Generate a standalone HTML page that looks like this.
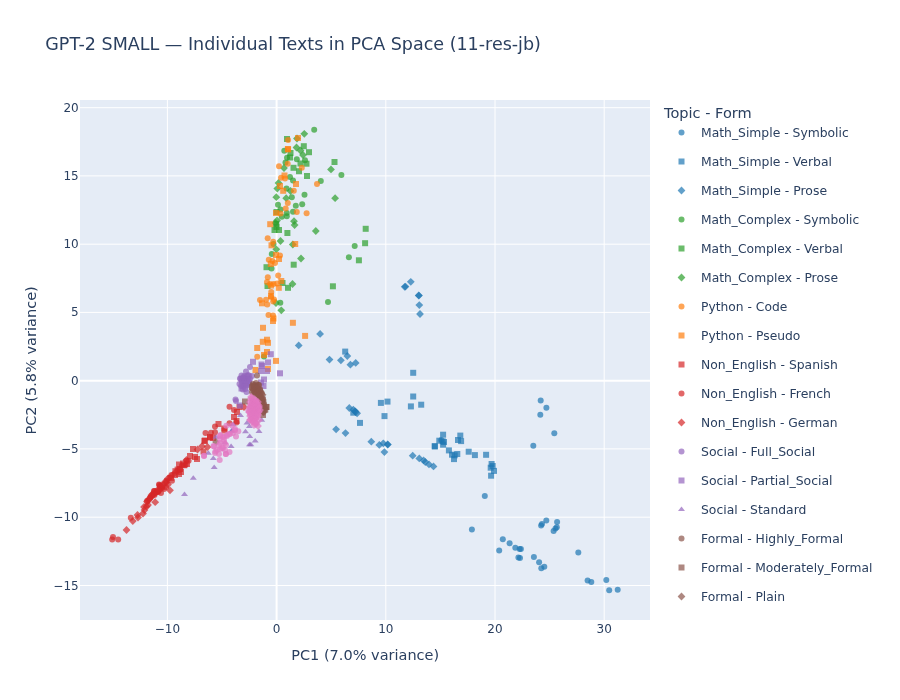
<!DOCTYPE html>
<html><head><meta charset="utf-8"><title>GPT-2 SMALL PCA</title>
<style>
html,body{margin:0;padding:0;background:#fff;}
svg{display:block;font-family:"DejaVu Sans","Liberation Sans",sans-serif;fill:#2a3f5f;}
</style></head><body>
<svg width="900" height="700" viewBox="0 0 900 700">
<rect width="900" height="700" fill="#fff"/>
<rect x="80" y="100" width="570" height="520" fill="#e5ecf6"/>
<g stroke="#fff" stroke-width="1">
<line x1="167.4" x2="167.4" y1="100" y2="620"/>
<line x1="385.8" x2="385.8" y1="100" y2="620"/>
<line x1="495" x2="495" y1="100" y2="620"/>
<line x1="604.2" x2="604.2" y1="100" y2="620"/>
<line y1="585.5" y2="585.5" x1="80" x2="650"/>
<line y1="517.2" y2="517.2" x1="80" x2="650"/>
<line y1="448.9" y2="448.9" x1="80" x2="650"/>
<line y1="312.4" y2="312.4" x1="80" x2="650"/>
<line y1="244.2" y2="244.2" x1="80" x2="650"/>
<line y1="175.9" y2="175.9" x1="80" x2="650"/>
<line y1="107.7" y2="107.7" x1="80" x2="650"/>
</g><g stroke="#fff" stroke-width="2">
<line x1="276.6" x2="276.6" y1="100" y2="620"/>
<line y1="380.7" y2="380.7" x1="80" x2="650"/>
</g>
<g fill-opacity="0.7">
<g fill="#1f77b4">
<circle cx="484.8" cy="496.1" r="3"/>
<circle cx="471.9" cy="529.6" r="3"/>
<circle cx="502.8" cy="539.3" r="3"/>
<circle cx="509.6" cy="543.3" r="3"/>
<circle cx="515.3" cy="547.7" r="3"/>
<circle cx="519.6" cy="548.9" r="3"/>
<circle cx="520.9" cy="549.1" r="3"/>
<circle cx="499.2" cy="550.4" r="3"/>
<circle cx="518.4" cy="557.6" r="3"/>
<circle cx="520" cy="558" r="3"/>
<circle cx="533.9" cy="557.1" r="3"/>
<circle cx="539.1" cy="562.2" r="3"/>
<circle cx="546.3" cy="520.4" r="3"/>
<circle cx="542" cy="524" r="3"/>
<circle cx="541.1" cy="525.6" r="3"/>
<circle cx="557.1" cy="522" r="3"/>
<circle cx="556.8" cy="527.2" r="3"/>
<circle cx="555.5" cy="528.5" r="3"/>
<circle cx="553.6" cy="530.9" r="3"/>
<circle cx="540.7" cy="400.4" r="3"/>
<circle cx="546.4" cy="407.7" r="3"/>
<circle cx="540.3" cy="414.8" r="3"/>
<circle cx="554.3" cy="433.2" r="3"/>
<circle cx="533.3" cy="445.7" r="3"/>
<circle cx="578.3" cy="552.5" r="3"/>
<circle cx="544.3" cy="566.7" r="3"/>
<circle cx="541.3" cy="568.3" r="3"/>
<circle cx="587.6" cy="580.4" r="3"/>
<circle cx="591.3" cy="582" r="3"/>
<circle cx="606.3" cy="579.9" r="3"/>
<circle cx="609.2" cy="590.3" r="3"/>
<circle cx="617.7" cy="589.7" r="3"/>
<circle cx="441.3" cy="440" r="3"/>
<rect x="410.2" y="369.8" width="6" height="6"/>
<rect x="342.2" y="348.6" width="6" height="6"/>
<rect x="410.2" y="393.5" width="6" height="6"/>
<rect x="377.9" y="399.9" width="6" height="6"/>
<rect x="384.5" y="398.6" width="6" height="6"/>
<rect x="407.9" y="403.4" width="6" height="6"/>
<rect x="418.2" y="401.7" width="6" height="6"/>
<rect x="350.3" y="409.7" width="6" height="6"/>
<rect x="381.5" y="413.1" width="6" height="6"/>
<rect x="357" y="419.9" width="6" height="6"/>
<rect x="431.9" y="443.4" width="6" height="6"/>
<rect x="431.7" y="443.2" width="6" height="6"/>
<rect x="436.3" y="437.7" width="6" height="6"/>
<rect x="440.1" y="431.7" width="6" height="6"/>
<rect x="439.7" y="438.3" width="6" height="6"/>
<rect x="441" y="439" width="6" height="6"/>
<rect x="440.1" y="441.7" width="6" height="6"/>
<rect x="457.3" y="432.6" width="6" height="6"/>
<rect x="455" y="437" width="6" height="6"/>
<rect x="458.1" y="438.1" width="6" height="6"/>
<rect x="445.9" y="447.4" width="6" height="6"/>
<rect x="449" y="451.7" width="6" height="6"/>
<rect x="451.7" y="452.3" width="6" height="6"/>
<rect x="454.3" y="451" width="6" height="6"/>
<rect x="451" y="456.1" width="6" height="6"/>
<rect x="465.7" y="448.7" width="6" height="6"/>
<rect x="471.9" y="452.1" width="6" height="6"/>
<rect x="483.1" y="451.8" width="6" height="6"/>
<rect x="488.6" y="461" width="6" height="6"/>
<rect x="489.7" y="463" width="6" height="6"/>
<rect x="487.7" y="464.7" width="6" height="6"/>
<rect x="491" y="467.9" width="6" height="6"/>
<rect x="488.1" y="472.7" width="6" height="6"/>
<path d="M410.8 277.9L414.7 281.8L410.8 285.7L406.9 281.8Z"/>
<path d="M404.7 282.9L408.6 286.8L404.7 290.7L400.8 286.8Z"/>
<path d="M405.5 282.7L409.4 286.6L405.5 290.5L401.6 286.6Z"/>
<path d="M418.7 291.5L422.6 295.4L418.7 299.3L414.8 295.4Z"/>
<path d="M418.9 291.7L422.8 295.6L418.9 299.5L415 295.6Z"/>
<path d="M419.3 301.2L423.2 305.1L419.3 309L415.4 305.1Z"/>
<path d="M420 310.1L423.9 314L420 317.9L416.1 314Z"/>
<path d="M320.1 330L324 333.9L320.1 337.8L316.2 333.9Z"/>
<path d="M298.7 341.5L302.6 345.4L298.7 349.3L294.8 345.4Z"/>
<path d="M347.3 352.1L351.2 356L347.3 359.9L343.4 356Z"/>
<path d="M329.5 355.7L333.4 359.6L329.5 363.5L325.6 359.6Z"/>
<path d="M340.9 356.4L344.8 360.3L340.9 364.2L337 360.3Z"/>
<path d="M350.4 360.8L354.3 364.7L350.4 368.6L346.5 364.7Z"/>
<path d="M355.7 359L359.6 362.9L355.7 366.8L351.8 362.9Z"/>
<path d="M349.3 404.1L353.2 408L349.3 411.9L345.4 408Z"/>
<path d="M353.3 405.8L357.2 409.7L353.3 413.6L349.4 409.7Z"/>
<path d="M354.9 407.2L358.8 411.1L354.9 415L351 411.1Z"/>
<path d="M355.7 408.1L359.6 412L355.7 415.9L351.8 412Z"/>
<path d="M357.1 409.4L361 413.3L357.1 417.2L353.2 413.3Z"/>
<path d="M336.1 425.4L340 429.3L336.1 433.2L332.2 429.3Z"/>
<path d="M345.5 429.2L349.4 433.1L345.5 437L341.6 433.1Z"/>
<path d="M371.3 437.8L375.2 441.7L371.3 445.6L367.4 441.7Z"/>
<path d="M379.3 441L383.2 444.9L379.3 448.8L375.4 444.9Z"/>
<path d="M383.3 439.4L387.2 443.3L383.3 447.2L379.4 443.3Z"/>
<path d="M387.6 440.5L391.5 444.4L387.6 448.3L383.7 444.4Z"/>
<path d="M387.8 440.7L391.7 444.6L387.8 448.5L383.9 444.6Z"/>
<path d="M384.4 448.2L388.3 452.1L384.4 456L380.5 452.1Z"/>
<path d="M412.7 451.8L416.6 455.7L412.7 459.6L408.8 455.7Z"/>
<path d="M419.3 454.5L423.2 458.4L419.3 462.3L415.4 458.4Z"/>
<path d="M423.6 456.5L427.5 460.4L423.6 464.3L419.7 460.4Z"/>
<path d="M425.3 458.1L429.2 462L425.3 465.9L421.4 462Z"/>
<path d="M429 460.5L432.9 464.4L429 468.3L425.1 464.4Z"/>
<path d="M433.5 462.5L437.4 466.4L433.5 470.3L429.6 466.4Z"/>
</g>
<g fill="#2ca02c">
<circle cx="314.2" cy="129.7" r="3"/>
<circle cx="284.3" cy="150.8" r="3"/>
<circle cx="287" cy="157.8" r="3"/>
<circle cx="296.8" cy="159.2" r="3"/>
<circle cx="305" cy="160.2" r="3"/>
<circle cx="285.5" cy="162.5" r="3"/>
<circle cx="341.4" cy="175.1" r="3"/>
<circle cx="320.8" cy="181" r="3"/>
<circle cx="290" cy="177" r="3"/>
<circle cx="293" cy="180.5" r="3"/>
<circle cx="286.5" cy="188.5" r="3"/>
<circle cx="304.5" cy="194.7" r="3"/>
<circle cx="291.8" cy="197.2" r="3"/>
<circle cx="278" cy="204.8" r="3"/>
<circle cx="295.8" cy="205.8" r="3"/>
<circle cx="302.2" cy="204.3" r="3"/>
<circle cx="280.5" cy="209.5" r="3"/>
<circle cx="293" cy="211.8" r="3"/>
<circle cx="286.8" cy="213" r="3"/>
<circle cx="286.8" cy="216.2" r="3"/>
<circle cx="281.8" cy="216.8" r="3"/>
<circle cx="271.8" cy="254" r="3"/>
<circle cx="271.5" cy="268.5" r="3"/>
<circle cx="280.3" cy="302.8" r="3"/>
<circle cx="328" cy="302" r="3"/>
<circle cx="354.7" cy="246" r="3"/>
<circle cx="348.9" cy="257.2" r="3"/>
<circle cx="264" cy="356.5" r="3"/>
<circle cx="273.5" cy="244" r="3"/>
<rect x="284" y="136" width="6" height="6"/>
<rect x="300.8" y="143.2" width="6" height="6"/>
<rect x="306" y="149.2" width="6" height="6"/>
<rect x="287.5" y="150" width="6" height="6"/>
<rect x="287" y="154.5" width="6" height="6"/>
<rect x="303.5" y="160.7" width="6" height="6"/>
<rect x="297.5" y="160.5" width="6" height="6"/>
<rect x="290.5" y="164.8" width="6" height="6"/>
<rect x="296" y="168.2" width="6" height="6"/>
<rect x="304" y="173" width="6" height="6"/>
<rect x="331.5" y="159" width="6" height="6"/>
<rect x="273.5" y="209" width="6" height="6"/>
<rect x="273.2" y="221" width="6" height="6"/>
<rect x="271.5" y="227" width="6" height="6"/>
<rect x="276" y="227" width="6" height="6"/>
<rect x="273.5" y="224" width="6" height="6"/>
<rect x="284.4" y="230" width="6" height="6"/>
<rect x="290.7" y="261.7" width="6" height="6"/>
<rect x="263.5" y="264.2" width="6" height="6"/>
<rect x="279.5" y="280" width="6" height="6"/>
<rect x="264.5" y="283" width="6" height="6"/>
<rect x="285" y="284.8" width="6" height="6"/>
<rect x="329.9" y="283.3" width="6" height="6"/>
<rect x="362.7" y="225.8" width="6" height="6"/>
<rect x="362.1" y="240.2" width="6" height="6"/>
<rect x="355.9" y="257.3" width="6" height="6"/>
<path d="M304.3 129.9L308.2 133.8L304.3 137.7L300.4 133.8Z"/>
<path d="M297 134.6L300.9 138.5L297 142.4L293.1 138.5Z"/>
<path d="M296.5 143.6L300.4 147.5L296.5 151.4L292.6 147.5Z"/>
<path d="M300.5 146.6L304.4 150.5L300.5 154.4L296.6 150.5Z"/>
<path d="M303 151.1L306.9 155L303 158.9L299.1 155Z"/>
<path d="M284 164.1L287.9 168L284 171.9L280.1 168Z"/>
<path d="M331 165.5L334.9 169.4L331 173.3L327.1 169.4Z"/>
<path d="M278.5 179.1L282.4 183L278.5 186.9L274.6 183Z"/>
<path d="M277.3 184.7L281.2 188.6L277.3 192.5L273.4 188.6Z"/>
<path d="M290.5 187.1L294.4 191L290.5 194.9L286.6 191Z"/>
<path d="M335.1 194.3L339 198.2L335.1 202.1L331.2 198.2Z"/>
<path d="M276.3 193.3L280.2 197.2L276.3 201.1L272.4 197.2Z"/>
<path d="M286.2 194.3L290.1 198.2L286.2 202.1L282.3 198.2Z"/>
<path d="M294 217.3L297.9 221.2L294 225.1L290.1 221.2Z"/>
<path d="M294.6 221.1L298.5 225L294.6 228.9L290.7 225Z"/>
<path d="M277 216.6L280.9 220.5L277 224.4L273.1 220.5Z"/>
<path d="M275.5 219.1L279.4 223L275.5 226.9L271.6 223Z"/>
<path d="M315.8 227.1L319.7 231L315.8 234.9L311.9 231Z"/>
<path d="M280.5 237.1L284.4 241L280.5 244.9L276.6 241Z"/>
<path d="M292.8 240.6L296.7 244.5L292.8 248.4L288.9 244.5Z"/>
<path d="M276.3 245.4L280.2 249.3L276.3 253.2L272.4 249.3Z"/>
<path d="M301 254.6L304.9 258.5L301 262.4L297.1 258.5Z"/>
<path d="M292.5 280.1L296.4 284L292.5 287.9L288.6 284Z"/>
<path d="M276 299.1L279.9 303L276 306.9L272.1 303Z"/>
<path d="M281.3 306.4L285.2 310.3L281.3 314.2L277.4 310.3Z"/>
</g>
<g fill="#ff7f0e">
<circle cx="288.1" cy="140" r="3"/>
<circle cx="287.7" cy="163.8" r="3"/>
<circle cx="279" cy="166.3" r="3"/>
<circle cx="301.8" cy="167.8" r="3"/>
<circle cx="317" cy="184" r="3"/>
<circle cx="281" cy="177.8" r="3"/>
<circle cx="285" cy="178.5" r="3"/>
<circle cx="293.8" cy="190.8" r="3"/>
<circle cx="287.8" cy="203" r="3"/>
<circle cx="285.7" cy="208.5" r="3"/>
<circle cx="280.5" cy="213.5" r="3"/>
<circle cx="296.8" cy="212" r="3"/>
<circle cx="306.6" cy="213.2" r="3"/>
<circle cx="267.7" cy="238.3" r="3"/>
<circle cx="273.2" cy="241.8" r="3"/>
<circle cx="280" cy="255.5" r="3"/>
<circle cx="268.8" cy="259.8" r="3"/>
<circle cx="272.5" cy="261" r="3"/>
<circle cx="275" cy="263" r="3"/>
<circle cx="278.2" cy="275.5" r="3"/>
<circle cx="267.8" cy="277.3" r="3"/>
<circle cx="267" cy="282" r="3"/>
<circle cx="270" cy="284" r="3"/>
<circle cx="273.5" cy="284" r="3"/>
<circle cx="277" cy="283.5" r="3"/>
<circle cx="271.2" cy="292" r="3"/>
<circle cx="274" cy="299.5" r="3"/>
<circle cx="260" cy="300" r="3"/>
<circle cx="266" cy="299.8" r="3"/>
<circle cx="267.3" cy="304.5" r="3"/>
<circle cx="273.2" cy="301.5" r="3"/>
<circle cx="271" cy="297" r="3"/>
<circle cx="268.5" cy="315" r="3"/>
<circle cx="273" cy="315.5" r="3"/>
<circle cx="257.2" cy="356.7" r="3"/>
<rect x="295" y="135" width="6" height="6"/>
<rect x="284.9" y="146" width="6" height="6"/>
<rect x="285.1" y="146.4" width="6" height="6"/>
<rect x="281.5" y="172.5" width="6" height="6"/>
<rect x="293" y="181" width="6" height="6"/>
<rect x="277" y="183" width="6" height="6"/>
<rect x="280.2" y="187.8" width="6" height="6"/>
<rect x="273" y="210" width="6" height="6"/>
<rect x="267.2" y="221.2" width="6" height="6"/>
<rect x="268.5" y="242.3" width="6" height="6"/>
<rect x="292.2" y="241" width="6" height="6"/>
<rect x="273" y="252" width="6" height="6"/>
<rect x="276" y="256" width="6" height="6"/>
<rect x="267.8" y="261" width="6" height="6"/>
<rect x="278.3" y="278" width="6" height="6"/>
<rect x="275.8" y="284.8" width="6" height="6"/>
<rect x="268" y="282.5" width="6" height="6"/>
<rect x="268" y="293" width="6" height="6"/>
<rect x="259" y="300.3" width="6" height="6"/>
<rect x="270.5" y="315.5" width="6" height="6"/>
<rect x="270" y="318" width="6" height="6"/>
<rect x="289.9" y="319.8" width="6" height="6"/>
<rect x="260" y="324.8" width="6" height="6"/>
<rect x="302.1" y="332.9" width="6" height="6"/>
<rect x="264" y="336.7" width="6" height="6"/>
<rect x="259.8" y="338.8" width="6" height="6"/>
<rect x="265" y="339.8" width="6" height="6"/>
<rect x="254.2" y="345" width="6" height="6"/>
<rect x="264" y="349" width="6" height="6"/>
<rect x="261" y="352" width="6" height="6"/>
<rect x="273" y="357.9" width="6" height="6"/>
<rect x="265" y="366" width="6" height="6"/>
<rect x="252.5" y="367" width="6" height="6"/>
</g>
<g fill="#d62728">
<rect x="221.5" y="427.5" width="6" height="6"/>
<rect x="207" y="434" width="6" height="6"/>
<rect x="201.8" y="437.5" width="6" height="6"/>
<rect x="190" y="446" width="6" height="6"/>
<rect x="200.5" y="448.5" width="6" height="6"/>
<rect x="187" y="453" width="6" height="6"/>
<rect x="192" y="454" width="6" height="6"/>
<rect x="194" y="456" width="6" height="6"/>
<rect x="176" y="461.5" width="6" height="6"/>
<rect x="180" y="460.5" width="6" height="6"/>
<rect x="184" y="461" width="6" height="6"/>
<rect x="177" y="466" width="6" height="6"/>
<rect x="178" y="469" width="6" height="6"/>
<rect x="176" y="471" width="6" height="6"/>
<rect x="172" y="472" width="6" height="6"/>
<rect x="236.5" y="404" width="6" height="6"/>
<rect x="234" y="409" width="6" height="6"/>
<rect x="231" y="414" width="6" height="6"/>
<rect x="215.5" y="421" width="6" height="6"/>
<rect x="221.3" y="425.5" width="6" height="6"/>
<rect x="233.5" y="418" width="6" height="6"/>
<rect x="207" y="434.5" width="6" height="6"/>
<rect x="210" y="435" width="6" height="6"/>
<rect x="201.5" y="438" width="6" height="6"/>
<circle cx="113" cy="537" r="3"/>
<circle cx="112.2" cy="539.5" r="3"/>
<circle cx="118.2" cy="539.5" r="3"/>
<circle cx="130.8" cy="517.8" r="3"/>
<circle cx="147" cy="501" r="3"/>
<circle cx="150.5" cy="497.5" r="3"/>
<circle cx="154" cy="494" r="3"/>
<circle cx="154.5" cy="491" r="3"/>
<circle cx="158" cy="491.5" r="3"/>
<circle cx="159.5" cy="490" r="3"/>
<circle cx="161" cy="493" r="3"/>
<circle cx="160" cy="486" r="3"/>
<circle cx="159" cy="484.5" r="3"/>
<circle cx="162" cy="487.5" r="3"/>
<circle cx="164" cy="489" r="3"/>
<circle cx="166" cy="487" r="3"/>
<circle cx="166.5" cy="481" r="3"/>
<circle cx="172" cy="480.7" r="3"/>
<circle cx="205.5" cy="433" r="3"/>
<circle cx="211" cy="432.7" r="3"/>
<circle cx="215" cy="432.3" r="3"/>
<circle cx="185.5" cy="465" r="3"/>
<circle cx="171.5" cy="475" r="3"/>
<circle cx="159.5" cy="485" r="3"/>
<circle cx="162" cy="488" r="3"/>
<circle cx="154" cy="491" r="3"/>
<circle cx="158" cy="492" r="3"/>
<circle cx="152" cy="496" r="3"/>
<circle cx="229.5" cy="406.7" r="3"/>
<circle cx="234" cy="410" r="3"/>
<circle cx="236.5" cy="422.5" r="3"/>
<circle cx="229.5" cy="423.3" r="3"/>
<circle cx="215" cy="426.5" r="3"/>
<path d="M126.5 526.1L130.4 530L126.5 533.9L122.6 530Z"/>
<path d="M132.8 517.1L136.7 521L132.8 524.9L128.9 521Z"/>
<path d="M137.5 511.1L141.4 515L137.5 518.9L133.6 515Z"/>
<path d="M138 513.6L141.9 517.5L138 521.4L134.1 517.5Z"/>
<path d="M143 509.6L146.9 513.5L143 517.4L139.1 513.5Z"/>
<path d="M144.5 506.1L148.4 510L144.5 513.9L140.6 510Z"/>
<path d="M144 503.1L147.9 507L144 510.9L140.1 507Z"/>
<path d="M146.5 502.6L150.4 506.5L146.5 510.4L142.6 506.5Z"/>
<path d="M148 501.1L151.9 505L148 508.9L144.1 505Z"/>
<path d="M155.2 498.3L159.1 502.2L155.2 506.1L151.3 502.2Z"/>
<path d="M149 495.1L152.9 499L149 502.9L145.1 499Z"/>
<path d="M152 492.1L155.9 496L152 499.9L148.1 496Z"/>
<path d="M156 488.6L159.9 492.5L156 496.4L152.1 492.5Z"/>
<path d="M170 486.4L173.9 490.3L170 494.2L166.1 490.3Z"/>
<path d="M168 480.6L171.9 484.5L168 488.4L164.1 484.5Z"/>
<path d="M202 442.3L205.9 446.2L202 450.1L198.1 446.2Z"/>
<path d="M207.5 443.1L211.4 447L207.5 450.9L203.6 447Z"/>
<path d="M197.5 445.6L201.4 449.5L197.5 453.4L193.6 449.5Z"/>
<path d="M186.5 456.1L190.4 460L186.5 463.9L182.6 460Z"/>
<path d="M177 467.1L180.9 471L177 474.9L173.1 471Z"/>
<path d="M244 403.1L247.9 407L244 410.9L240.1 407Z"/>
<path d="M147 497.6L150.9 501.5L147 505.4L143.1 501.5Z"/>
<path d="M148.5 496.7L152.4 500.6L148.5 504.5L144.6 500.6Z"/>
<circle cx="150" cy="497.8" r="3"/>
<path d="M151.5 491L155.4 494.9L151.5 498.8L147.6 494.9Z"/>
<path d="M153 489.8L156.9 493.7L153 497.6L149.1 493.7Z"/>
<circle cx="154.5" cy="495" r="3"/>
<circle cx="156" cy="492.2" r="3"/>
<path d="M157.5 486.2L161.4 490.1L157.5 494L153.6 490.1Z"/>
<path d="M159 486.1L162.9 490L159 493.9L155.1 490Z"/>
<circle cx="160.5" cy="486.2" r="3"/>
<path d="M162 482L165.9 485.9L162 489.8L158.1 485.9Z"/>
<path d="M163.5 480.7L167.4 484.6L163.5 488.5L159.6 484.6Z"/>
<path d="M165 478.1L168.9 482L165 485.9L161.1 482Z"/>
<path d="M166.5 478.4L170.4 482.3L166.5 486.2L162.6 482.3Z"/>
<path d="M168 474.6L171.9 478.5L168 482.4L164.1 478.5Z"/>
<circle cx="169.5" cy="477.7" r="3"/>
<rect x="168" y="474.9" width="6" height="6"/>
<path d="M173.2 470.5L177.1 474.4L173.2 478.3L169.3 474.4Z"/>
<rect x="172.4" y="468.2" width="6" height="6"/>
<rect x="174.6" y="466.6" width="6" height="6"/>
<circle cx="179.8" cy="469.5" r="3"/>
<circle cx="182" cy="465.6" r="3"/>
<rect x="181.2" y="462.3" width="6" height="6"/>
<circle cx="186.4" cy="460.8" r="3"/>
<circle cx="188.6" cy="460.8" r="3"/>
</g>
<g fill="#9467bd">
<circle cx="250" cy="367" r="3"/>
<circle cx="246" cy="371.5" r="3"/>
<circle cx="240" cy="378.5" r="3"/>
<circle cx="239.5" cy="384" r="3"/>
<circle cx="244" cy="377" r="3"/>
<circle cx="248" cy="375" r="3"/>
<circle cx="247" cy="380" r="3"/>
<circle cx="244" cy="382" r="3"/>
<circle cx="250" cy="379" r="3"/>
<circle cx="243" cy="386" r="3"/>
<circle cx="247" cy="385" r="3"/>
<circle cx="246.5" cy="392" r="3"/>
<circle cx="252" cy="376" r="3"/>
<circle cx="235.5" cy="399.5" r="3"/>
<circle cx="236" cy="401" r="3"/>
<circle cx="242" cy="380" r="3"/>
<circle cx="245" cy="384" r="3"/>
<circle cx="249" cy="383" r="3"/>
<rect x="267.8" y="351.2" width="6" height="6"/>
<rect x="250" y="358.8" width="6" height="6"/>
<rect x="265" y="359.4" width="6" height="6"/>
<rect x="258.5" y="361.5" width="6" height="6"/>
<rect x="259" y="363" width="6" height="6"/>
<rect x="264" y="368" width="6" height="6"/>
<rect x="277" y="370.3" width="6" height="6"/>
<rect x="261" y="376.5" width="6" height="6"/>
<rect x="260.5" y="383" width="6" height="6"/>
<rect x="258" y="368" width="6" height="6"/>
<rect x="238.5" y="385.5" width="6" height="6"/>
<rect x="258" y="379.5" width="6" height="6"/>
<rect x="237" y="402.5" width="6" height="6"/>
<path d="M181 495.9H188L184.5 491.4Z"/>
<path d="M189.8 479.7H196.8L193.3 475.2Z"/>
<path d="M210.7 469.1H217.7L214.2 464.6Z"/>
<path d="M209.8 460H216.8L213.3 455.5Z"/>
<path d="M204.8 454.7H211.8L208.3 450.2Z"/>
<path d="M227.6 448.1H234.6L231.1 443.6Z"/>
<path d="M212.5 438.7H219.5L216 434.2Z"/>
<path d="M228 432.7H235L231.5 428.2Z"/>
<path d="M237 417.1H244L240.5 412.6Z"/>
<path d="M258.2 421.8H265.2L261.7 417.3Z"/>
<path d="M243.5 424.5H250.5L247 420Z"/>
<path d="M245.9 427.9H252.9L249.4 423.4Z"/>
<path d="M242 433.3H249L245.5 428.8Z"/>
<path d="M255.5 433H262.5L259 428.5Z"/>
<path d="M246.2 438H253.2L249.7 433.5Z"/>
<path d="M251.7 442.5H258.7L255.2 438Z"/>
<path d="M246 446.2H253L249.5 441.7Z"/>
<path d="M247.3 446.2H254.3L250.8 441.7Z"/>
<path d="M229.5 426.2H236.5L233 421.7Z"/>
<path d="M228.5 432.2H235.5L232 427.7Z"/>
<path d="M221.5 444.2H228.5L225 439.7Z"/>
<circle cx="241.5" cy="375.6" r="3"/>
<circle cx="244.2" cy="376" r="3"/>
<circle cx="247" cy="376" r="3"/>
<circle cx="249.2" cy="375.7" r="3"/>
<circle cx="240.6" cy="378.8" r="3"/>
<circle cx="242.9" cy="378.2" r="3"/>
<circle cx="245.1" cy="378.4" r="3"/>
<circle cx="247.9" cy="379.1" r="3"/>
<circle cx="241.8" cy="381.6" r="3"/>
<circle cx="244.3" cy="380.8" r="3"/>
<circle cx="246.8" cy="381.7" r="3"/>
<circle cx="249.1" cy="381.1" r="3"/>
<circle cx="242.4" cy="383.5" r="3"/>
<circle cx="245.8" cy="383.8" r="3"/>
<circle cx="247.9" cy="383.8" r="3"/>
<circle cx="241.2" cy="386.1" r="3"/>
<circle cx="243.6" cy="386.7" r="3"/>
<circle cx="246.5" cy="385.9" r="3"/>
<circle cx="242.8" cy="389.4" r="3"/>
<circle cx="245.3" cy="388.9" r="3"/>
</g>
<g fill="#8c564b">
<circle cx="257" cy="375.5" r="3"/>
<circle cx="253" cy="384" r="3"/>
<circle cx="256" cy="383" r="3"/>
<circle cx="259" cy="385" r="3"/>
<circle cx="252" cy="388" r="3"/>
<circle cx="256" cy="388" r="3"/>
<circle cx="260" cy="390" r="3"/>
<circle cx="252" cy="392" r="3"/>
<circle cx="257" cy="392" r="3"/>
<circle cx="262" cy="393.5" r="3"/>
<circle cx="260" cy="396" r="3"/>
<circle cx="263" cy="399" r="3"/>
<circle cx="264" cy="404" r="3"/>
<rect x="263.5" y="404" width="6" height="6"/>
<rect x="260" y="412" width="6" height="6"/>
<rect x="242" y="398.5" width="6" height="6"/>
<rect x="255" y="386" width="6" height="6"/>
<rect x="251" y="383" width="6" height="6"/>
<rect x="259" y="399" width="6" height="6"/>
<path d="M265 405.1L268.9 409L265 412.9L261.1 409Z"/>
<path d="M263 408.1L266.9 412L263 415.9L259.1 412Z"/>
<path d="M216 438.1L219.9 442L216 445.9L212.1 442Z"/>
<path d="M255 387.1L258.9 391L255 394.9L251.1 391Z"/>
<path d="M259 390.1L262.9 394L259 397.9L255.1 394Z"/>
<path d="M261 394.1L264.9 398L261 401.9L257.1 398Z"/>
<rect x="250.3" y="382.6" width="6" height="6"/>
<rect x="252.8" y="382.3" width="6" height="6"/>
<circle cx="258.4" cy="385" r="3"/>
<rect x="249.2" y="384.1" width="6" height="6"/>
<rect x="251.6" y="384.8" width="6" height="6"/>
<path d="M257.1 383.5L261 387.4L257.1 391.3L253.2 387.4Z"/>
<path d="M258.9 383.9L262.8 387.8L258.9 391.7L255 387.8Z"/>
<path d="M253.3 385.9L257.2 389.8L253.3 393.7L249.4 389.8Z"/>
<path d="M255.5 385.5L259.4 389.4L255.5 393.3L251.6 389.4Z"/>
<circle cx="258" cy="389.9" r="3"/>
<circle cx="260.2" cy="390.3" r="3"/>
<path d="M254.5 388.7L258.4 392.6L254.5 396.5L250.6 392.6Z"/>
<path d="M256.6 388.8L260.5 392.7L256.6 396.6L252.7 392.7Z"/>
<path d="M258.7 388.1L262.6 392L258.7 395.9L254.8 392Z"/>
<circle cx="261" cy="392.2" r="3"/>
<circle cx="255.1" cy="394.4" r="3"/>
<path d="M258.2 390.8L262.1 394.7L258.2 398.6L254.3 394.7Z"/>
<circle cx="259.8" cy="395.1" r="3"/>
<path d="M262.6 390.9L266.5 394.8L262.6 398.7L258.7 394.8Z"/>
<rect x="255.8" y="394" width="6" height="6"/>
<circle cx="261.1" cy="397" r="3"/>
<path d="M260.5 395.3L264.4 399.2L260.5 403.1L256.6 399.2Z"/>
<rect x="259.6" y="396.5" width="6" height="6"/>
<rect x="258.9" y="398.5" width="6" height="6"/>
<rect x="260.4" y="399.2" width="6" height="6"/>
<path d="M262.3 400.2L266.2 404.1L262.3 408L258.4 404.1Z"/>
<rect x="260.7" y="404" width="6" height="6"/>
<rect x="263.2" y="403.9" width="6" height="6"/>
<rect x="262.3" y="406.6" width="6" height="6"/>
<path d="M263.9 408.1L267.8 412L263.9 415.9L260 412Z"/>
</g>
<g fill="#e377c2">
<circle cx="204" cy="455.8" r="3"/>
<circle cx="214" cy="446.5" r="3"/>
<circle cx="215.5" cy="451.5" r="3"/>
<circle cx="219" cy="454" r="3"/>
<circle cx="219.7" cy="460" r="3"/>
<circle cx="222" cy="448" r="3"/>
<circle cx="225" cy="450" r="3"/>
<circle cx="225.7" cy="454" r="3"/>
<circle cx="229.5" cy="452" r="3"/>
<circle cx="220" cy="443" r="3"/>
<circle cx="224.5" cy="443" r="3"/>
<circle cx="220" cy="436" r="3"/>
<circle cx="224" cy="437" r="3"/>
<circle cx="227" cy="436" r="3"/>
<circle cx="229" cy="434" r="3"/>
<circle cx="236" cy="436.5" r="3"/>
<circle cx="233" cy="433" r="3"/>
<circle cx="238.3" cy="431.2" r="3"/>
<circle cx="226.3" cy="425.8" r="3"/>
<circle cx="232" cy="425.5" r="3"/>
<circle cx="235" cy="430.5" r="3"/>
<circle cx="230" cy="434" r="3"/>
<circle cx="227" cy="435" r="3"/>
<circle cx="223" cy="437" r="3"/>
<circle cx="220" cy="439" r="3"/>
<circle cx="220.5" cy="435" r="3"/>
<circle cx="224" cy="440" r="3"/>
<circle cx="213.5" cy="446" r="3"/>
<circle cx="219" cy="445" r="3"/>
<circle cx="226" cy="445" r="3"/>
<circle cx="223" cy="448" r="3"/>
<circle cx="220" cy="449" r="3"/>
<circle cx="215" cy="453" r="3"/>
<circle cx="226" cy="454" r="3"/>
<circle cx="217" cy="450" r="3"/>
<circle cx="204" cy="456" r="3"/>
<circle cx="235" cy="429" r="3"/>
<path d="M251 393.1L254.9 397L251 400.9L247.1 397Z"/>
<path d="M254 395.1L257.9 399L254 402.9L250.1 399Z"/>
<path d="M258 398.1L261.9 402L258 405.9L254.1 402Z"/>
<path d="M250 398.1L253.9 402L250 405.9L246.1 402Z"/>
<path d="M254 400.1L257.9 404L254 407.9L250.1 404Z"/>
<path d="M259 402.1L262.9 406L259 409.9L255.1 406Z"/>
<path d="M250 403.1L253.9 407L250 410.9L246.1 407Z"/>
<path d="M255 405.1L258.9 409L255 412.9L251.1 409Z"/>
<path d="M260 406.1L263.9 410L260 413.9L256.1 410Z"/>
<path d="M249 408.1L252.9 412L249 415.9L245.1 412Z"/>
<path d="M254 409.1L257.9 413L254 416.9L250.1 413Z"/>
<path d="M258 411.1L261.9 415L258 418.9L254.1 415Z"/>
<path d="M250 412.1L253.9 416L250 419.9L246.1 416Z"/>
<path d="M255 414.1L258.9 418L255 421.9L251.1 418Z"/>
<path d="M259 416.1L262.9 420L259 423.9L255.1 420Z"/>
<path d="M252 417.1L255.9 421L252 424.9L248.1 421Z"/>
<path d="M256 419.1L259.9 423L256 426.9L252.1 423Z"/>
<path d="M258 422.1L261.9 426L258 429.9L254.1 426Z"/>
<path d="M254 421.1L257.9 425L254 428.9L250.1 425Z"/>
<path d="M250 416.1L253.9 420L250 423.9L246.1 420Z"/>
<path d="M251.7 394.1L255.6 398L251.7 401.9L247.8 398Z"/>
<path d="M250.9 395.8L254.8 399.7L250.9 403.6L247 399.7Z"/>
<path d="M253.2 396.8L257.1 400.7L253.2 404.6L249.3 400.7Z"/>
<path d="M255.8 396.5L259.7 400.4L255.8 404.3L251.9 400.4Z"/>
<path d="M252.5 399.2L256.4 403.1L252.5 407L248.6 403.1Z"/>
<path d="M254.1 399.1L258 403L254.1 406.9L250.2 403Z"/>
<path d="M256.4 398.3L260.3 402.2L256.4 406.1L252.5 402.2Z"/>
<path d="M250.8 400.6L254.7 404.5L250.8 408.4L246.9 404.5Z"/>
<path d="M253.6 401.3L257.5 405.2L253.6 409.1L249.7 405.2Z"/>
<path d="M255.4 400.7L259.3 404.6L255.4 408.5L251.5 404.6Z"/>
<path d="M257.9 400.7L261.8 404.6L257.9 408.5L254 404.6Z"/>
<path d="M249.5 403.4L253.4 407.3L249.5 411.2L245.6 407.3Z"/>
<path d="M251.9 403.4L255.8 407.3L251.9 411.2L248 407.3Z"/>
<path d="M254.8 403.3L258.7 407.2L254.8 411.1L250.9 407.2Z"/>
<path d="M257.1 403.3L261 407.2L257.1 411.1L253.2 407.2Z"/>
<path d="M258.9 403.3L262.8 407.2L258.9 411.1L255 407.2Z"/>
<path d="M248.7 406L252.6 409.9L248.7 413.8L244.8 409.9Z"/>
<path d="M251 405.4L254.9 409.3L251 413.2L247.1 409.3Z"/>
<path d="M253.2 406.2L257.1 410.1L253.2 414L249.3 410.1Z"/>
<path d="M255.6 406.3L259.5 410.2L255.6 414.1L251.7 410.2Z"/>
<path d="M257.7 405.8L261.6 409.7L257.7 413.6L253.8 409.7Z"/>
<path d="M249.3 408L253.2 411.9L249.3 415.8L245.4 411.9Z"/>
<path d="M252 408.6L255.9 412.5L252 416.4L248.1 412.5Z"/>
<path d="M254.4 408.1L258.3 412L254.4 415.9L250.5 412Z"/>
<path d="M256.7 408.3L260.6 412.2L256.7 416.1L252.8 412.2Z"/>
<path d="M258.8 408.1L262.7 412L258.8 415.9L254.9 412Z"/>
<path d="M250.7 410.9L254.6 414.8L250.7 418.7L246.8 414.8Z"/>
<path d="M253.1 410.5L257 414.4L253.1 418.3L249.2 414.4Z"/>
<path d="M255.6 410.8L259.5 414.7L255.6 418.6L251.7 414.7Z"/>
<path d="M257.6 410.7L261.5 414.6L257.6 418.5L253.7 414.6Z"/>
<path d="M252.3 413.4L256.2 417.3L252.3 421.2L248.4 417.3Z"/>
<path d="M253.9 413L257.8 416.9L253.9 420.8L250 416.9Z"/>
<path d="M257.3 412.8L261.2 416.7L257.3 420.6L253.4 416.7Z"/>
<path d="M250.4 415.8L254.3 419.7L250.4 423.6L246.5 419.7Z"/>
<path d="M253.5 415.2L257.4 419.1L253.5 423L249.6 419.1Z"/>
<path d="M255.7 415.3L259.6 419.2L255.7 423.1L251.8 419.2Z"/>
<path d="M252.5 417.7L256.4 421.6L252.5 425.5L248.6 421.6Z"/>
<path d="M254.5 418.3L258.4 422.2L254.5 426.1L250.6 422.2Z"/>
<path d="M255.8 420.5L259.7 424.4L255.8 428.3L251.9 424.4Z"/>
</g>
</g>
<text transform="translate(167.4,633) scale(1.0,1)" font-size="12" text-anchor="middle">−10</text>
<text transform="translate(276.6,633) scale(1.0,1)" font-size="12" text-anchor="middle">0</text>
<text transform="translate(385.8,633) scale(1.0,1)" font-size="12" text-anchor="middle">10</text>
<text transform="translate(495,633) scale(1.0,1)" font-size="12" text-anchor="middle">20</text>
<text transform="translate(604.2,633) scale(1.0,1)" font-size="12" text-anchor="middle">30</text>
<text transform="translate(78.7,589.5) scale(1.0,1)" font-size="12" text-anchor="end">−15</text>
<text transform="translate(78.7,521.2) scale(1.0,1)" font-size="12" text-anchor="end">−10</text>
<text transform="translate(78.7,452.9) scale(1.0,1)" font-size="12" text-anchor="end">−5</text>
<text transform="translate(78.7,384.7) scale(1.0,1)" font-size="12" text-anchor="end">0</text>
<text transform="translate(78.7,316.4) scale(1.0,1)" font-size="12" text-anchor="end">5</text>
<text transform="translate(78.7,248.2) scale(1.0,1)" font-size="12" text-anchor="end">10</text>
<text transform="translate(78.7,179.9) scale(1.0,1)" font-size="12" text-anchor="end">15</text>
<text transform="translate(78.7,111.7) scale(1.0,1)" font-size="12" text-anchor="end">20</text>
<text transform="translate(45.3,50) scale(1.031,1)" font-size="17">GPT-2 SMALL — Individual Texts in PCA Space (11-res-jb)</text>
<text transform="translate(365.2,660) scale(1.036,1)" font-size="14" text-anchor="middle">PC1 (7.0% variance)</text>
<text transform="translate(35.8,360.4) rotate(-90) scale(1.04,1)" font-size="14" text-anchor="middle">PC2 (5.8% variance)</text>
<text transform="translate(664,118) scale(1.04,1)" font-size="14">Topic - Form</text>
<g fill="#1f77b4" fill-opacity="0.7"><circle cx="681.5" cy="132.5" r="3"/></g>
<text transform="translate(701,136.8) scale(1.03,1)" font-size="12">Math_Simple - Symbolic</text>
<g fill="#1f77b4" fill-opacity="0.7"><rect x="678.5" y="158.5" width="6" height="6"/></g>
<text transform="translate(701,165.8) scale(1.034,1)" font-size="12">Math_Simple - Verbal</text>
<g fill="#1f77b4" fill-opacity="0.7"><path d="M681.5 186.6L685.4 190.5L681.5 194.4L677.6 190.5Z"/></g>
<text transform="translate(701,194.8) scale(1.0375,1)" font-size="12">Math_Simple - Prose</text>
<g fill="#2ca02c" fill-opacity="0.7"><circle cx="681.5" cy="219.5" r="3"/></g>
<text transform="translate(701,223.8) scale(1.02,1)" font-size="12">Math_Complex - Symbolic</text>
<g fill="#2ca02c" fill-opacity="0.7"><rect x="678.5" y="245.5" width="6" height="6"/></g>
<text transform="translate(701,252.8) scale(1.0255,1)" font-size="12">Math_Complex - Verbal</text>
<g fill="#2ca02c" fill-opacity="0.7"><path d="M681.5 273.6L685.4 277.5L681.5 281.4L677.6 277.5Z"/></g>
<text transform="translate(701,281.8) scale(1.0295,1)" font-size="12">Math_Complex - Prose</text>
<g fill="#ff7f0e" fill-opacity="0.7"><circle cx="681.5" cy="306.5" r="3"/></g>
<text transform="translate(701,310.8) scale(1.025,1)" font-size="12">Python - Code</text>
<g fill="#ff7f0e" fill-opacity="0.7"><rect x="678.5" y="332.5" width="6" height="6"/></g>
<text transform="translate(701,339.8) scale(1.028,1)" font-size="12">Python - Pseudo</text>
<g fill="#d62728" fill-opacity="0.7"><rect x="678.5" y="361.5" width="6" height="6"/></g>
<text transform="translate(701,368.8) scale(1.032,1)" font-size="12">Non_English - Spanish</text>
<g fill="#d62728" fill-opacity="0.7"><circle cx="681.5" cy="393.5" r="3"/></g>
<text transform="translate(701,397.8) scale(1.04,1)" font-size="12">Non_English - French</text>
<g fill="#d62728" fill-opacity="0.7"><path d="M681.5 418.6L685.4 422.5L681.5 426.4L677.6 422.5Z"/></g>
<text transform="translate(701,426.8) scale(1.026,1)" font-size="12">Non_English - German</text>
<g fill="#9467bd" fill-opacity="0.7"><circle cx="681.5" cy="451.5" r="3"/></g>
<text transform="translate(701,455.8) scale(1.043,1)" font-size="12">Social - Full_Social</text>
<g fill="#9467bd" fill-opacity="0.7"><rect x="678.5" y="477.5" width="6" height="6"/></g>
<text transform="translate(701,484.8) scale(1.038,1)" font-size="12">Social - Partial_Social</text>
<g fill="#9467bd" fill-opacity="0.7"><path d="M678 511H685L681.5 506.5Z"/></g>
<text transform="translate(701,513.8) scale(1.034,1)" font-size="12">Social - Standard</text>
<g fill="#8c564b" fill-opacity="0.7"><circle cx="681.5" cy="538.5" r="3"/></g>
<text transform="translate(701,542.8) scale(1.033,1)" font-size="12">Formal - Highly_Formal</text>
<g fill="#8c564b" fill-opacity="0.7"><rect x="678.5" y="564.5" width="6" height="6"/></g>
<text transform="translate(701,571.8) scale(1.026,1)" font-size="12">Formal - Moderately_Formal</text>
<g fill="#8c564b" fill-opacity="0.7"><path d="M681.5 592.6L685.4 596.5L681.5 600.4L677.6 596.5Z"/></g>
<text transform="translate(701,600.8) scale(1.03,1)" font-size="12">Formal - Plain</text>
</svg></body></html>
